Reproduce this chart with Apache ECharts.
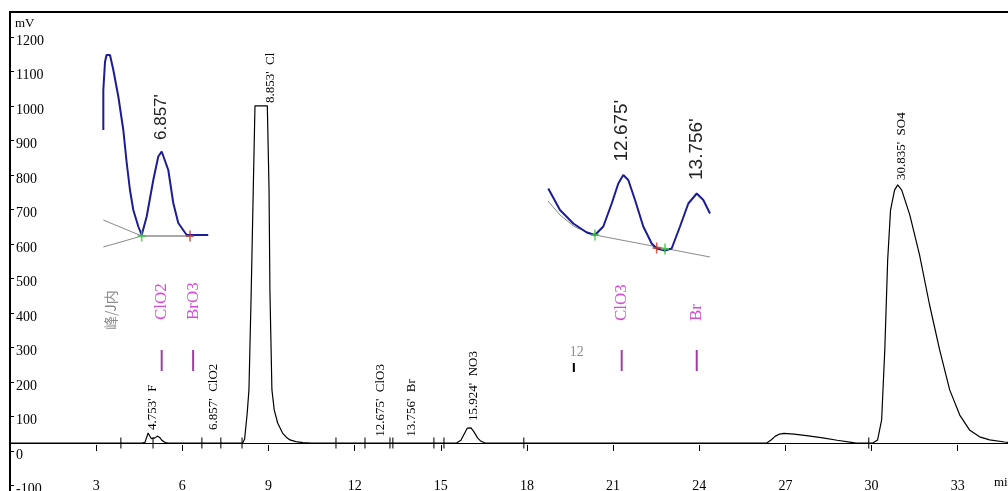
<!DOCTYPE html>
<html><head><meta charset="utf-8">
<script src="https://cdn.jsdelivr.net/npm/echarts@6/dist/echarts.min.js"></script>
<style>html,body{margin:0;padding:0;background:#fff}#c{width:1008px;height:491px}</style>
</head><body><div id="c"></div>
<script>
// ---------- main chromatogram (time in min, signal in mV) ----------
const traceTime = [0, 4.60, 4.70, 4.76, 4.81, 4.86, 4.92, 4.98, 5.05, 5.13, 5.20, 5.30, 5.42, 5.50,
  8.10, 8.17, 8.26, 8.32, 8.40, 8.47, 8.53, 8.96, 9.02, 9.05, 9.12, 9.20, 9.32, 9.49, 9.62, 9.75, 9.95, 10.20, 10.50,
  15.55, 15.70, 15.82, 15.92, 15.98, 16.05, 16.15, 16.28, 16.40, 16.55,
  26.35, 26.50, 26.65, 26.80, 26.95, 27.30, 27.80, 28.30, 28.80, 29.30, 29.45,
  30.04, 30.21, 30.35, 30.46, 30.56, 30.66, 30.80, 30.91, 31.05, 31.33, 31.67, 32.02, 32.37, 32.72, 33.07, 33.41, 33.76, 34.11, 34.63, 34.75];
const traceMv = [23, 23, 25, 40, 52, 44, 36, 33, 38, 43, 40, 30, 24, 23,
  23, 35, 110, 177, 466, 756, 1000, 1000, 756, 466, 177, 119, 81, 52, 40, 32, 27, 24, 23,
  23, 31, 50, 66, 70, 67, 56, 38, 28, 23,
  23, 32, 43, 49, 51, 49, 44, 38, 31, 25, 23,
  23, 32, 90, 293, 553, 698, 756, 771, 756, 684, 568, 423, 293, 177, 104, 61, 41, 32, 26, 25];
const baselineMv = 23;
const peakTimes = [4.753, 6.857, 8.853, 12.675, 13.756, 15.924, 30.835];
const peakNames = ['F', 'ClO2', 'Cl', 'ClO3', 'Br', 'NO3', 'SO4'];
const peakLabelMv = [61, 61, 1008, 41, 41, 87, 785];
const eventTimes = [3.86, 4.98, 6.68, 7.34, 8.08, 11.35, 12.36, 13.23, 13.33, 14.76, 15.11, 17.89, 29.90];

// ---------- inset 1 (zoom around 6.857 min) ----------
const in1Time = [6.016, 6.016, 6.040, 6.062, 6.112, 6.160, 6.232, 6.304, 6.353, 6.400, 6.448, 6.520, 6.569, 6.641, 6.736, 6.808, 6.857, 6.952, 7.024, 7.096, 7.217, 7.528];
const in1Mv   = [21.2, 29.2, 34.8, 36.2, 36.2, 33.2, 27.9, 21.2, 14.6, 9.2, 5.2, 1.9, 0.2, 3.9, 11.2, 15.9, 16.9, 13.2, 6.6, 2.6, 0.2, 0.2];
const in1GrayATime = [6.016, 6.569], in1GrayAMv = [3.2, 0];
const in1GrayBTime = [6.016, 6.569], in1GrayBMv = [-2.2, 0];
const in1BaseTime = [6.569, 7.265], in1BaseMv = [0, 0];
const in1Start = [6.569, 0], in1End = [7.265, 0];
const in1Names = ['ClO2', 'BrO3'], in1NameTimes = [6.857, 7.31];
const in1PeakTime = 6.857, in1PeakLabelMv = 19.2;

// ---------- inset 2 (zoom around 12.675 / 13.756 min) ----------
const in2Time = [11.617, 11.786, 11.978, 12.171, 12.290, 12.410, 12.531, 12.626, 12.698, 12.770, 12.867, 12.986, 13.107, 13.179, 13.299, 13.395, 13.515, 13.635, 13.756, 13.851, 13.947];
const in2Mv   = [14.3, 10.0, 7.3, 5.5, 5.0, 6.7, 11.3, 15.3, 17.0, 16.0, 12.0, 6.7, 3.3, 2.3, 1.9, 2.3, 6.7, 11.3, 13.3, 12.0, 9.3];
const in2GrayTime = [11.613, 11.786, 12.002, 12.290, 13.947];
const in2GrayMv   = [11.8, 9.0, 6.6, 5.0, 0.6];
const in2Starts = [[12.290, 5.0], [13.299, 2.2]], in2Ends = [[13.179, 2.4]];
const in2Names = ['ClO3', 'Br'], in2NameTimes = [12.675, 13.756];
const in2PeakTimes = [12.675, 13.756], in2PeakLabelMv = [19.7, 16.0];
const in2TickTime = 12, in2TickLabel = '12';

const zip = (a, b) => a.map((v, i) => [v, b[i]]);
const SERIF = '"Liberation Serif", "Times New Roman", serif';
const SANS = '"Liberation Sans", Arial, sans-serif';
const plusPath = 'path://M4,0h2v4h4v2h-4v4h-2v-4h-4v-2h4z';

const chart = echarts.init(document.getElementById('c'), null, {renderer: 'canvas'});
const option = {
  animation: false,
  backgroundColor: '#fff',
  grid: [
    {left: 10, right: 0, top: 12, bottom: -29, outerBoundsMode: 'none', containLabel: false},
    {left: 100, top: 50, width: 112, height: 200, outerBoundsMode: 'none', containLabel: false},
    {left: 545, top: 90, width: 167, height: 170, outerBoundsMode: 'none', containLabel: false}
  ],
  xAxis: [
    {gridIndex: 0, type: 'value', min: 0, max: 34.75, interval: 3, position: 'bottom', offset: -29,
      axisLine: {show: false}, splitLine: {show: false},
      axisTick: {inside: true, length: 6, lineStyle: {color: '#000', width: 1}},
      axisLabel: {inside: true, margin: -2, color: '#000', fontSize: 14, fontFamily: SERIF, showMinLabel: false, showMaxLabel: false,
        formatter: v => String(v)}},
    {gridIndex: 1, type: 'value', min: 5.968, max: 7.582, show: false},
    {gridIndex: 2, type: 'value', min: 11.570, max: 13.976, show: false}
  ],
  yAxis: [
    {gridIndex: 0, type: 'value', min: -200, max: 1272, interval: 100,
      axisLine: {show: true, lineStyle: {color: '#000', width: 2}}, splitLine: {show: false},
      axisTick: {show: true, inside: true, length: 4, lineStyle: {color: '#000', width: 1}},
      axisLabel: {inside: true, margin: 6, color: '#000', fontSize: 14, fontFamily: SERIF, verticalAlign: 'top', lineHeight: 8, showMaxLabel: false,
        formatter: v => String(v)}},
    {gridIndex: 1, type: 'value', min: -2.8, max: 37.2, show: false},
    {gridIndex: 2, type: 'value', min: 0, max: 34, show: false}
  ],
  series: [
    {type: 'line', xAxisIndex: 0, yAxisIndex: 0, data: zip(traceTime, traceMv), showSymbol: false, silent: true,
      lineStyle: {color: '#000', width: 1.2}, z: 3,
      markLine: {silent: true, symbol: 'none', label: {show: false}, lineStyle: {color: '#000', width: 1.2, type: 'solid'},
        data: [{yAxis: baselineMv}]}},
    {type: 'scatter', xAxisIndex: 0, yAxisIndex: 0, data: eventTimes.map(t => [t, baselineMv]), symbol: 'rect',
      symbolSize: [1.3, 11], itemStyle: {color: '#000'}, silent: true, z: 4},
    // inset 1
    {type: 'line', xAxisIndex: 1, yAxisIndex: 1, data: zip(in1GrayATime, in1GrayAMv), showSymbol: false, clip: false, silent: true, lineStyle: {color: '#8a8a8a', width: 1}},
    {type: 'line', xAxisIndex: 1, yAxisIndex: 1, data: zip(in1GrayBTime, in1GrayBMv), showSymbol: false, clip: false, silent: true, lineStyle: {color: '#8a8a8a', width: 1}},
    {type: 'line', xAxisIndex: 1, yAxisIndex: 1, data: zip(in1BaseTime, in1BaseMv), showSymbol: false, clip: false, silent: true, lineStyle: {color: '#555', width: 1}},
    {type: 'line', xAxisIndex: 1, yAxisIndex: 1, data: zip(in1Time, in1Mv), showSymbol: false, clip: false, silent: true, lineStyle: {color: '#1c1c96', width: 2}, z: 5},
    {type: 'scatter', xAxisIndex: 1, yAxisIndex: 1, data: [in1Start], symbol: plusPath, symbolSize: [8, 11], itemStyle: {color: '#3cc43c'}, silent: true, z: 6},
    {type: 'scatter', xAxisIndex: 1, yAxisIndex: 1, data: [in1End], symbol: plusPath, symbolSize: [8, 11], itemStyle: {color: '#c03a2a'}, silent: true, z: 6},
    // inset 2
    {type: 'line', xAxisIndex: 2, yAxisIndex: 2, data: zip(in2GrayTime, in2GrayMv), showSymbol: false, clip: false, silent: true, lineStyle: {color: '#8a8a8a', width: 1}},
    {type: 'line', xAxisIndex: 2, yAxisIndex: 2, data: zip(in2Time, in2Mv), showSymbol: false, clip: false, silent: true, lineStyle: {color: '#1c1c96', width: 2}, z: 5},
    {type: 'scatter', xAxisIndex: 2, yAxisIndex: 2, data: in2Starts, symbol: plusPath, symbolSize: [8, 11], itemStyle: {color: '#3cc43c'}, silent: true, z: 6},
    {type: 'scatter', xAxisIndex: 2, yAxisIndex: 2, data: in2Ends, symbol: plusPath, symbolSize: [8, 11], itemStyle: {color: '#c03a2a'}, silent: true, z: 6}
  ]
};
chart.setOption(option);

const px = (idx, t, v) => chart.convertToPixel({xAxisIndex: idx, yAxisIndex: idx}, [t, v]);
const g = [];
const rotText = (x, y, text, font, fill) => g.push({type: 'text', x: x, y: y, rotation: Math.PI / 2, silent: true, z: 50,
  style: {text: text, font: font, fill: fill, align: 'left', verticalAlign: 'middle'}});
const vline = (x, y1, y2, color, w) => g.push({type: 'line', silent: true, z: 50, shape: {x1: x, y1: y1, x2: x, y2: y2}, style: {stroke: color, lineWidth: w}});

// frame top line
g.push({type: 'line', silent: true, z: 60, shape: {x1: 9, y1: 12, x2: 1008, y2: 12}, style: {stroke: '#000', lineWidth: 2}});
g.push({type: 'text', x: 15, y: 24, silent: true, z: 60, style: {text: 'mV', font: '13px ' + SERIF, fill: '#000', align: 'left', verticalAlign: 'middle'}});
g.push({type: 'text', x: 994, y: 483, silent: true, z: 60, style: {text: 'min', font: '13px ' + SERIF, fill: '#000', align: 'left', verticalAlign: 'middle'}});

// main peak labels
peakTimes.forEach((t, i) => {
  const p = px(0, t, peakLabelMv[i]);
  rotText(p[0] + 6.5, p[1], t.toFixed(3) + "'  " + peakNames[i], '13px ' + SERIF, '#000');
});

// inset 1 annotations
{
  const p = px(1, in1PeakTime, in1PeakLabelMv);
  rotText(p[0], p[1], in1PeakTime.toFixed(3) + "'", '17px ' + SANS, '#222');
  const q = px(1, 6.016, 0);
  rotText(q[0] + 7, 330, '峰/J内', '14px "Noto Sans CJK SC", sans-serif', '#8c8c8c');
  in1NameTimes.forEach((t, i) => {
    const r = px(1, t, 0);
    rotText(r[0], 320, in1Names[i], '17px ' + SERIF, '#d84ad8');
    vline(r[0], 350, 371, '#a23ca2', 2);
  });
}
// inset 2 annotations
{
  in2PeakTimes.forEach((t, i) => {
    const p = px(2, t, in2PeakLabelMv[i]);
    rotText(p[0], p[1], t.toFixed(3) + "'", '19px ' + SANS, '#222');
  });
  in2NameTimes.forEach((t, i) => {
    const r = px(2, t, 0);
    rotText(r[0], 321, in2Names[i], '17px ' + SERIF, '#d84ad8');
    vline(r[0], 350, 371, '#a23ca2', 2);
  });
  const k = px(2, in2TickTime, 0);
  g.push({type: 'text', x: k[0] + 2, y: 352, silent: true, z: 50, style: {text: in2TickLabel, font: '14px ' + SERIF, fill: '#8c8c8c', align: 'center', verticalAlign: 'middle'}});
  vline(k[0] - 1, 363, 372, '#000', 2);
}
chart.setOption({graphic: g});
</script></body></html>
